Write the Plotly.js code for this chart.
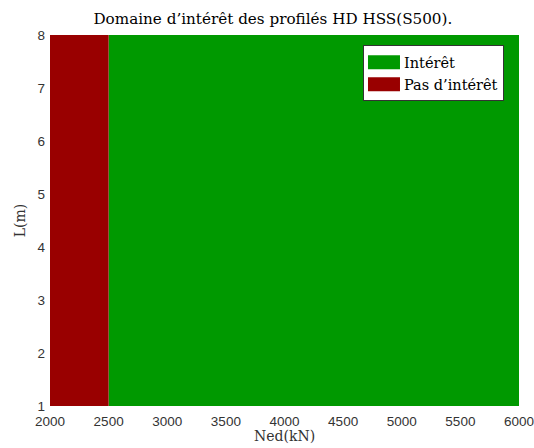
<!DOCTYPE html>
<html><head><meta charset="utf-8">
<script src="https://cdn.plot.ly/plotly-3.0.1.min.js"></script>
<style>html,body{margin:0;padding:0;background:#fff}#c{width:534px;height:448px}</style>
</head><body><div id="c"></div>
<script>
// Data
const regionNames = ["Intérêt", "Pas d’intérêt"];
const regionNedStart = [2500, 2000];
const regionNedEnd = [6000, 2500];
const regionLStart = [1, 1];
const regionLEnd = [8, 8];
const regionColors = ["#009900", "#990000"];
const xTicks = [2000, 2500, 3000, 3500, 4000, 4500, 5000, 5500, 6000];
const yTicks = [1, 2, 3, 4, 5, 6, 7, 8];

const traces = regionNames.map((n, i) => ({
  type: 'bar',
  name: n,
  x: [(regionNedStart[i] + regionNedEnd[i]) / 2],
  width: [regionNedEnd[i] - regionNedStart[i]],
  base: [regionLStart[i]],
  y: [regionLEnd[i] - regionLStart[i]],
  marker: {color: regionColors[i], line: {width: 0}},
  hoverinfo: 'none'
}));

const serif = '"DejaVu Serif", "Liberation Serif", serif';
const sans = '"Liberation Sans", Arial, sans-serif';
Plotly.newPlot('c', traces, {
  width: 534, height: 448,
  margin: {l: 50, r: 15, t: 35, b: 42},
  paper_bgcolor: '#fff', plot_bgcolor: '#fff',
  showlegend: true,
  barmode: 'overlay',
  title: {text: "Domaine d’intérêt des profilés HD HSS(S500).", font: {family: serif, size: 15.2, color: '#000'}, x: 0.511, xanchor: 'center', y: 0.958, yanchor: 'middle'},
  xaxis: {range: [2000, 6000], tickvals: xTicks, ticktext: xTicks.map(String), showgrid: false, zeroline: false,
    ticks: '', tickfont: {family: sans, size: 13.5, color: '#333'}, showline: false, ticklabeloverflow: 'allow', ticklabelstandoff: 5},
  yaxis: {range: [1, 8], tickvals: yTicks, ticktext: yTicks.map(String), showgrid: false, zeroline: false,
    ticks: '', tickfont: {family: sans, size: 13.5, color: '#333'}, showline: false, ticklabeloverflow: 'allow', ticklabelstandoff: 4,
    title: {text: 'L(m)', font: {family: serif, size: 14, color: '#333'}, standoff: 8}},
  annotations: [{text: 'Ned(kN)', xref: 'paper', yref: 'paper', x: 0.5, y: -0.08, xanchor: 'center', yanchor: 'middle',
    showarrow: false, font: {family: serif, size: 14, color: '#333'}}],
  legend: {x: 0.968, y: 0.972, xanchor: 'right', yanchor: 'top', bgcolor: '#fff', bordercolor: '#333', borderwidth: 1,
    font: {family: serif, size: 14.5, color: '#000'}, tracegroupgap: 0, traceorder: 'normal', itemwidth: 30}
}, {displayModeBar: false, staticPlot: true}).then(gd => {
  // widen legend swatches to look like filled rectangles
  gd.querySelectorAll('.legend .legendpoints path').forEach(p => {
    p.setAttribute('d', 'M16,7H-16V-7H16Z');
  });
});
</script></body></html>
